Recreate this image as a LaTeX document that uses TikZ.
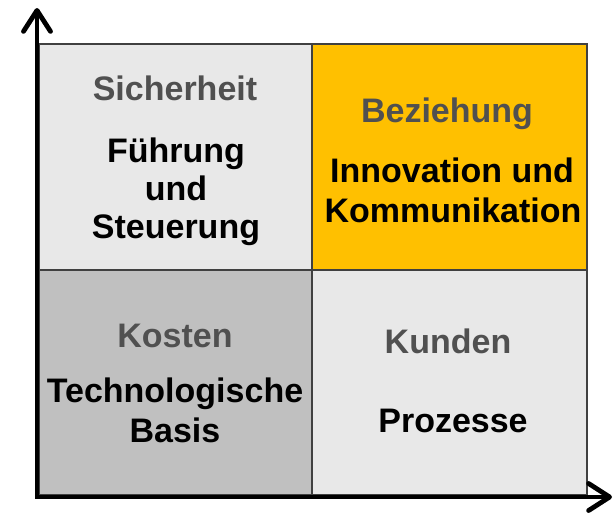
\documentclass[tikz,border=0pt]{standalone}
\usepackage{fontspec}
\setmainfont{Liberation Sans}
\usetikzlibrary{arrows.meta}
\definecolor{lightq}{HTML}{E8E8E8}
\definecolor{darkq}{HTML}{C0C0C0}
\definecolor{yellowq}{HTML}{FFC000}
\definecolor{titlegray}{HTML}{505050}
\definecolor{gridline}{HTML}{404040}
\begin{document}
\begin{tikzpicture}[x=1pt,y=-1pt,
  cell/.style={draw=gridline,line width=1.5pt},
  ttl/.style={anchor=base,font=\fontsize{34}{38}\selectfont\bfseries,text=titlegray,inner sep=0pt},
  body/.style={anchor=base,font=\fontsize{34}{38}\selectfont\bfseries,text=black,inner sep=0pt,align=center},
  axis/.style={line width=4.8pt,-{Straight Barb[length=21pt,width=27pt,line cap=round,line join=round]}}]
\useasboundingbox (0,0) rectangle (615,512);
% quadrants
\fill[lightq] (39,44) rectangle (312,270);
\fill[yellowq] (312,44) rectangle (587,270);
\fill[darkq] (39,270) rectangle (312,495);
\fill[lightq] (312,270) rectangle (587,495);
\draw[cell] (39,44) rectangle (587,495);
\draw[cell] (312,44) -- (312,495);
\draw[cell] (39,270) -- (587,270);
% texts
\node[ttl] (t1) at (175,100) {Sicherheit};
\node[body] (b1a) at (176,162) {Führung};
\node[body] (b1b) at (176,200) {und};
\node[body] (b1c) at (176,238) {Steuerung};
\node[ttl] (t2) at (447,122) {Beziehung};
\node[body] (b2a) at (452,182) {Innovation und};
\node[body] (b2b) at (453,222) {Kommunikation};
\node[ttl] (t3) at (175,347) {Kosten};
\node[body] (b3a) at (175,402) {Technologische};
\node[body] (b3b) at (175,442) {Basis};
\node[ttl] (t4) at (448,353) {Kunden};
\node[body] (b4a) at (453,432) {Prozesse};
% axes
\coordinate (o) at (37,497);
\coordinate (ytip) at (37,8);
\coordinate (xtip) at (612,497);
\draw[axis] (o) -- (ytip);
\draw[axis] (35,497) -- (xtip);
\end{tikzpicture}
\end{document}
